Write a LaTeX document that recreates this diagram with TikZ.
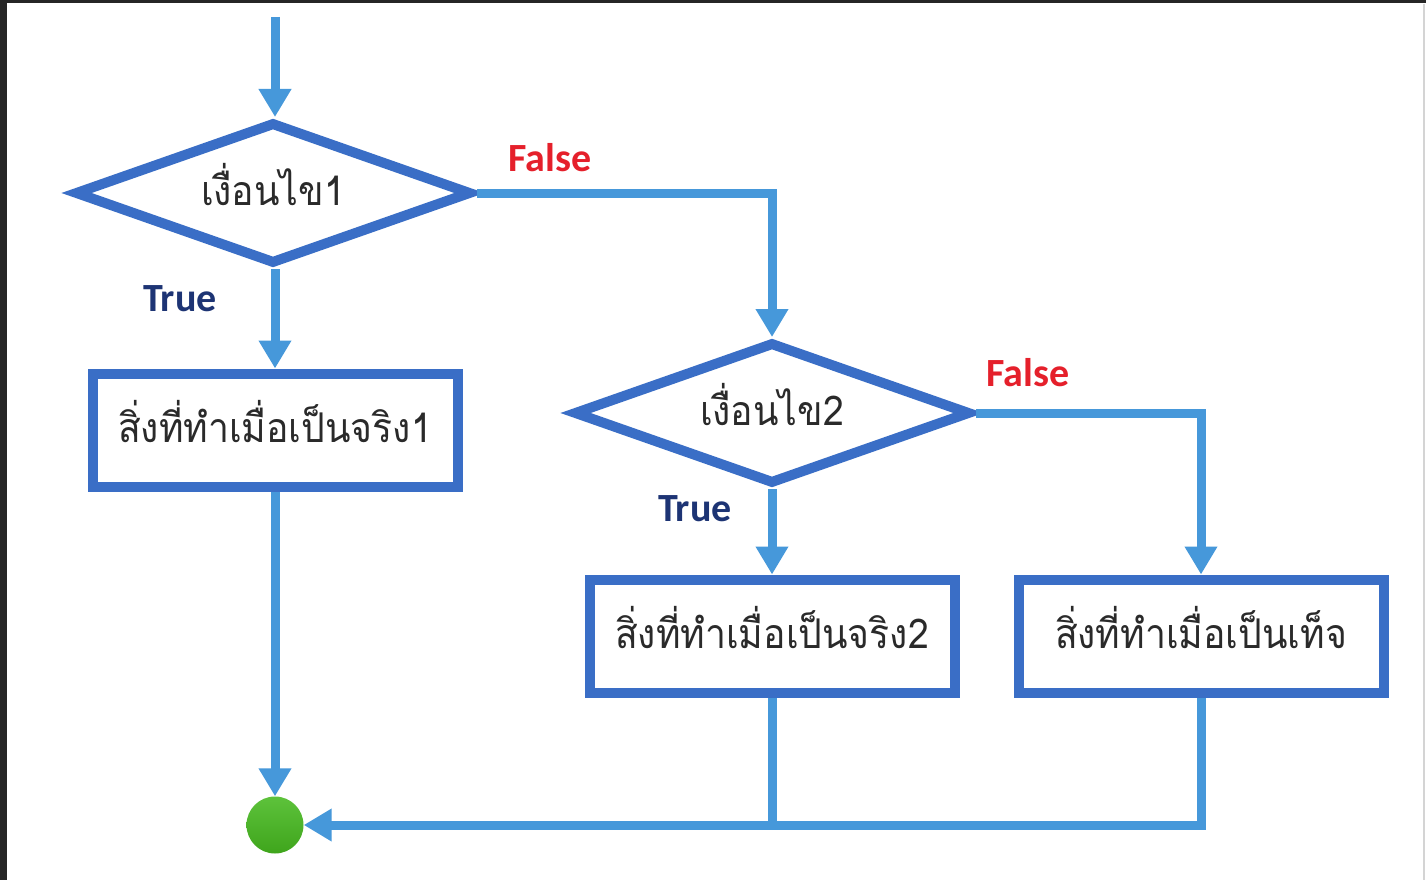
\documentclass[tikz,border=0pt]{standalone}
\usepackage{fontspec}
\newfontfamily\thaifont[Script=Thai, FakeStretch=0.91]{Loma}
\newfontfamily\labelfont{Carlito}
\usetikzlibrary{shapes.geometric,arrows.meta}
\definecolor{shapeblue}{HTML}{3A6EC6}
\definecolor{linkblue}{HTML}{4698DA}
\definecolor{falsered}{HTML}{E5202B}
\definecolor{truenavy}{HTML}{1D3474}
\definecolor{textgray}{HTML}{2A2A2A}
\definecolor{ballhi}{HTML}{5DC23B}
\definecolor{balllo}{HTML}{3FA51C}
\definecolor{edgedark}{HTML}{262626}
\definecolor{edgelight}{HTML}{D4D4D4}
\begin{document}
\begin{tikzpicture}[x=1pt,y=-1pt,
  thaitext/.style={font=\thaifont\fontsize{41}{44}\selectfont, text=textgray,
    text height=24pt, text depth=0pt},
  decision/.style={diamond, draw=shapeblue, line width=10pt, fill=white,
    inner sep=0pt, aspect=2.8, minimum width=397pt, minimum height=142pt, thaitext},
  process/.style={rectangle, draw=shapeblue, line width=10pt, fill=white,
    inner sep=0pt, minimum width=365pt, minimum height=113pt, thaitext},
  link/.style={draw=linkblue, line width=9pt},
  flow/.style={link, -{Triangle[width=31pt,length=28pt]}},
  branch/.style={font=\labelfont\bfseries\fontsize{40}{44}\selectfont},
  yes/.style={branch, text=truenavy},
  no/.style={branch, text=falsered},
  joint/.style={circle, minimum size=57pt, inner sep=0pt, top color=ballhi, bottom color=balllo}
]
\useasboundingbox (0,0) rectangle (1426,880);
\fill[white] (0,0) rectangle (1426,880);
% window edges
\fill[edgedark] (0,0) rectangle (7,880);
\fill[edgedark] (0,0) rectangle (1426,3.5);
\draw[edgelight, line width=1.5pt] (1424,4) -- (1424,880);

% shapes
\node[decision] (d1) at (273,193) {เงื่อนไข1};
\node[process]  (b1) at (275,430) {สิ่งที่ทำเมื่อเป็นจริง1};
\node[decision] (d2) at (772,413) {เงื่อนไข2};
\node[process]  (b2) at (772,636) {สิ่งที่ทำเมื่อเป็นจริง2};
\node[process]  (b3) at (1201,636) {สิ่งที่ทำเมื่อเป็นเท็จ};
\node[joint]    (ball) at (275,825) {};
\coordinate (start) at (275,17);

% connectors
\draw[flow] (start) -- (start |- d1.north);
\draw[flow] (d1.south -| b1.north) -- (b1.north);
\draw[flow] (d1.east) -| (d2.north);
\draw[flow] (d2.south) -- (b2.north);
\draw[flow] (d2.east) -| (b3.north);
\draw[flow] (b1.south) -- (ball.north);
\draw[link] (b2.south) -- (b2.south |- ball.east);
\draw[flow] (b3.south) |- (ball.east);

% branch labels
\node[no]  at (550,158) {False};
\node[yes] at (180,299) {True};
\node[no]  at (1028,373) {False};
\node[yes] at (695,509) {True};
\end{tikzpicture}
\end{document}
